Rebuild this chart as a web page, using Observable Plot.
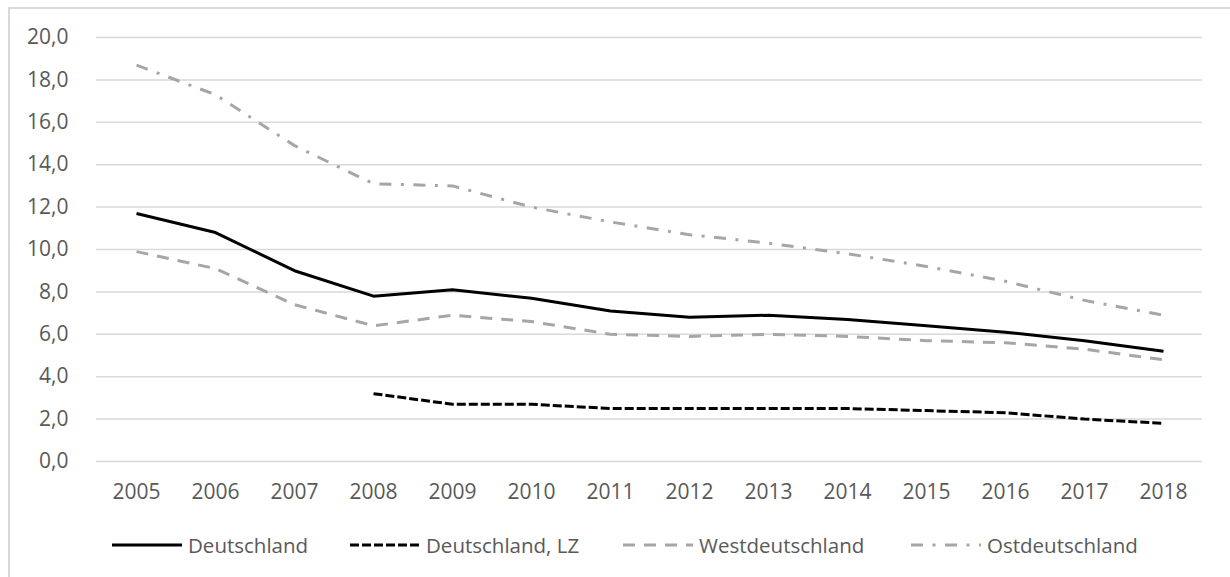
<!DOCTYPE html>
<html>
<head>
<meta charset="utf-8">
<script src="https://cdn.jsdelivr.net/npm/d3@7"></script>
<script src="https://cdn.jsdelivr.net/npm/@observablehq/plot@0.6"></script>
<style>
  html, body { margin: 0; padding: 0; background: #fff; width: 1230px; height: 577px; overflow: hidden; }
  #frame { position: absolute; left: 8px; top: 7px; width: 1300px; height: 700px; border: 2px solid #d9d9d9; box-sizing: border-box; }
  #chart { position: absolute; left: 0; top: 0; }
  #legend { position: absolute; left: 0; top: 532px; width: 1230px; height: 26px; font-family: "Open Sans", sans-serif; font-size: 20.5px; color: #595959; }
  .item { position: absolute; top: 0; height: 26px; display: flex; align-items: center; white-space: nowrap; }
  .item svg { margin-right: 6px; }
</style>
</head>
<body>
<div id="frame"></div>
<div id="chart"></div>
<div id="legend"></div>
<script>
const years = [2005, 2006, 2007, 2008, 2009, 2010, 2011, 2012, 2013, 2014, 2015, 2016, 2017, 2018];
const deutschland   = [11.7, 10.8, 9.0, 7.8, 8.1, 7.7, 7.1, 6.8, 6.9, 6.7, 6.4, 6.1, 5.7, 5.2];
const deutschlandLZ = [null, null, null, 3.2, 2.7, 2.7, 2.5, 2.5, 2.5, 2.5, 2.4, 2.3, 2.0, 1.8];
const west          = [9.9, 9.1, 7.4, 6.4, 6.9, 6.6, 6.0, 5.9, 6.0, 5.9, 5.7, 5.6, 5.3, 4.8];
const ost           = [18.7, 17.3, 14.9, 13.1, 13.0, 12.0, 11.3, 10.7, 10.3, 9.8, 9.2, 8.5, 7.6, 6.9];
const yTicks = [0, 2, 4, 6, 8, 10, 12, 14, 16, 18, 20];
const seriesNames = ["Deutschland", "Deutschland, LZ", "Westdeutschland", "Ostdeutschland"];

const seriesValues = [deutschland, deutschlandLZ, west, ost];
const styles = [
  {stroke: "#000000", dash: null},
  {stroke: "#000000", dash: "9,3"},
  {stroke: "#a6a6a6", dash: "12,9"},
  {stroke: "#a6a6a6", dash: "12,9.5,3,9.5"}
];

const rows = seriesNames.map((name, s) =>
  years.map((year, i) => ({series: name, year, value: seriesValues[s][i]}))
    .filter(d => d.value != null)
);

const fmt = d => d.toFixed(1).replace(".", ",");

const chart = Plot.plot({
  width: 1230,
  height: 520,
  marginLeft: 96,
  marginRight: 28,
  marginTop: 37,
  marginBottom: 59,
  style: {fontFamily: "Open Sans, sans-serif", fontSize: "21px", color: "#595959", background: "transparent"},
  x: {type: "point", domain: years, padding: 0.5, label: null, tickSize: 0, tickPadding: 23, tickFormat: d => String(d)},
  y: {domain: [0, 20], ticks: yTicks, label: null, tickSize: 0, tickPadding: 28, tickFormat: fmt},
  marks: [
    Plot.ruleY(yTicks, {stroke: "#d9d9d9", strokeWidth: 1.5}),
    ...rows.map((data, s) => Plot.line(data, {
      x: "year", y: "value",
      stroke: styles[s].stroke,
      strokeWidth: 3,
      strokeDasharray: styles[s].dash,
      strokeLinejoin: "round",
      strokeLinecap: "butt"
    }))
  ]
});
document.getElementById("chart").appendChild(chart);

// Legend
const legendLefts = [112, 350, 623, 911];
const legend = document.getElementById("legend");
seriesNames.forEach((name, s) => {
  const item = document.createElement("div");
  item.className = "item";
  item.style.left = legendLefts[s] + "px";
  const sw = d3.create("svg").attr("width", 70).attr("height", 26);
  sw.append("line").attr("x1", 0).attr("x2", 70).attr("y1", 13).attr("y2", 13)
    .attr("stroke", styles[s].stroke).attr("stroke-width", 3)
    .attr("stroke-dasharray", styles[s].dash);
  item.appendChild(sw.node());
  const t = document.createElement("span");
  t.textContent = name;
  item.appendChild(t);
  legend.appendChild(item);
});
</script>
</body>
</html>
